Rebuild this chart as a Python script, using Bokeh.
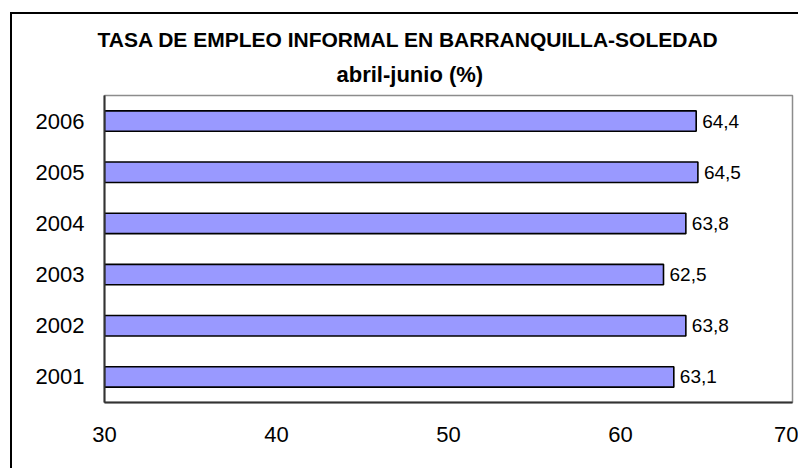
from bokeh.plotting import figure
from bokeh.models import ColumnDataSource, LabelSet, Title, Range1d, FactorRange, FixedTicker
from bokeh.core.properties import value
from bokeh.embed import file_html
from bokeh.resources import INLINE

years = ["2001", "2002", "2003", "2004", "2005", "2006"]
rates = [63.1, 63.8, 62.5, 63.8, 64.5, 64.4]
x_ticks = [30, 40, 50, 60, 70]
title_text = "TASA DE EMPLEO INFORMAL EN BARRANQUILLA-SOLEDAD"
subtitle_text = "abril-junio (%)"

x_min, x_max = x_ticks[0], x_ticks[-1]
labels = [f"{v:.1f}".replace(".", ",") for v in rates]
src = ColumnDataSource(dict(year=years, rate=rates, label=labels, base=[x_min] * len(years)))

FONT = "Liberation Sans"

p = figure(width=788, height=456, y_range=FactorRange(*years), x_range=Range1d(x_min, x_max),
           output_backend="svg", toolbar_location=None,
           min_border_left=92, min_border_right=8, min_border_top=81, min_border_bottom=68)
p.styles = {"margin-left": "10px", "margin-top": "12px",
            "border-left": "2px solid #000", "border-top": "2px solid #000"}

p.hbar(y="year", left="base", right="rate", height=0.4, source=src,
       fill_color="#9999FF", line_color="#000000", line_width=1.6)

p.add_layout(LabelSet(x="rate", y="year", text="label", source=src, x_offset=6,
                      text_baseline="middle", text_align="left",
                      text_font=value(FONT), text_font_size="19px", text_color="#000000"))

p.add_layout(Title(text=subtitle_text, align="left", offset=232, text_font=FONT,
                   text_font_size="22px", text_font_style="bold", text_color="#000000",
                   standoff=18), "above")
p.add_layout(Title(text=title_text, align="left", offset=-7, text_font=FONT,
                   text_font_size="21px", text_font_style="bold", text_color="#000000",
                   standoff=0), "above")

p.xgrid.visible = False
p.ygrid.visible = False
p.background_fill_color = "#FFFFFF"
p.border_fill_color = "#FFFFFF"
p.outline_line_color = "#8c8c8c"
p.outline_line_width = 1.5

p.xaxis.ticker = FixedTicker(ticks=x_ticks)
for ax in (p.xaxis[0], p.yaxis[0]):
    ax.axis_line_color = "#333333"
    ax.axis_line_width = 2
    ax.major_tick_line_color = None
    ax.minor_tick_line_color = None
    ax.major_tick_in = 0
    ax.major_tick_out = 0
    ax.major_label_text_font = FONT
    ax.major_label_text_font_size = "22px"
    ax.major_label_text_color = "#000000"
p.xaxis.major_label_standoff = 24
p.yaxis.major_label_standoff = 20

open("out.html", "w").write(file_html(p, INLINE))
